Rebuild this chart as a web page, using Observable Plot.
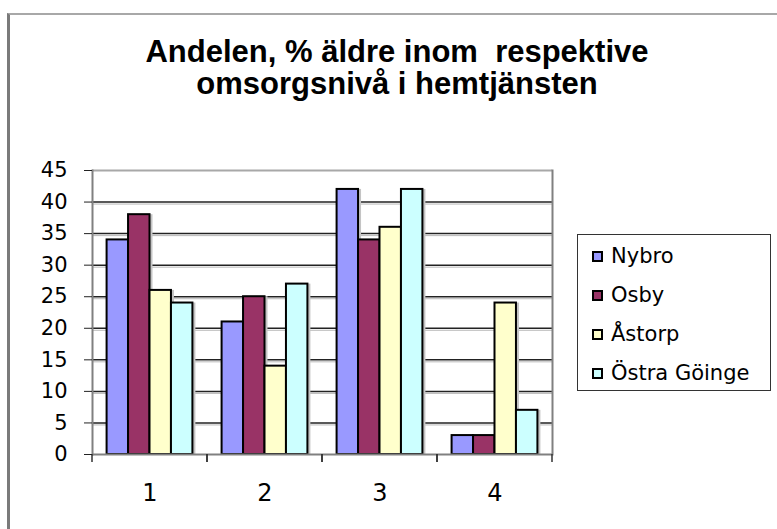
<!DOCTYPE html>
<html>
<head>
<meta charset="utf-8">
<script src="https://cdn.jsdelivr.net/npm/d3@7"></script>
<script src="https://cdn.jsdelivr.net/npm/@observablehq/plot@0.6"></script>
<style>
  html, body { margin: 0; padding: 0; background: #fff; }
  body { width: 777px; height: 529px; position: relative; overflow: hidden; }
  #border { position: absolute; left: 7px; top: 13px; width: 900px; height: 700px;
            border-left: 3px solid #7a7a7a; border-top: 2px solid #a8a8a8; box-sizing: border-box; }
  #title { position: absolute; left: 7px; width: 780px; top: 36px; text-align: center;
           font-family: "Liberation Sans", Arial, sans-serif; font-weight: bold; font-size: 31px;
           line-height: 32px; white-space: pre; color: #000; }
  #chart { position: absolute; left: 0; top: 0; }
  #legend { position: absolute; left: 577px; top: 234px; width: 194px; height: 157px;
            border: 1px solid #333; box-sizing: border-box; padding-top: 1.5px; background: #fff; }
  .row { height: 39px; display: flex; align-items: center; padding-left: 14px;
         font-family: "DejaVu Sans", sans-serif; font-size: 21px; color: #000; }
  .sw { width: 11px; height: 11px; border: 2px solid #000; box-sizing: border-box; margin-right: 8px; flex: none; }
</style>
</head>
<body>
<div id="border"></div>
<div id="title"></div>
<div id="chart"></div>
<div id="legend"></div>
<script>
const titleLines = ["Andelen, % äldre inom  respektive", "omsorgsnivå i hemtjänsten"];
const categories = [1, 2, 3, 4];
const series = ["Nybro", "Osby", "Åstorp", "Östra Göinge"];
const nybro = [34, 21, 42, 3];
const osby = [38, 25, 34, 3];
const astorp = [26, 14, 36, 24];
const ostraGoinge = [24, 27, 42, 7];
const colors = ["#9999ff", "#993366", "#ffffcc", "#ccffff"];
const yTicks = [0, 5, 10, 15, 20, 25, 30, 35, 40, 45];

const seriesValues = [nybro, osby, astorp, ostraGoinge];
const data = categories.flatMap((c, i) =>
  series.map((s, j) => ({cat: c, series: s, value: seriesValues[j][i]})));

document.getElementById("title").textContent = titleLines.join("\n");

const gridVals = yTicks.filter(v => v > 0 && v < 45);

function boundaryTicks(index, scales, values, dimensions) {
  const r = scales.x && scales.x.range ? scales.x.range()
    : [dimensions.marginLeft, dimensions.width - dimensions.marginRight];
  const y0 = scales.y(0);
  const g = d3.create("svg:g").attr("stroke", "#333").attr("stroke-width", 1.5);
  for (const x of r) {
    g.append("line").attr("x1", x).attr("x2", x).attr("y1", y0).attr("y2", y0 + 8);
  }
  return g.node();
}

const chart = Plot.plot({
  width: 777,
  height: 529,
  marginTop: 170,
  marginBottom: 75,
  marginLeft: 90,
  marginRight: 224,
  style: {background: "transparent", color: "#000", fontFamily: "DejaVu Sans, sans-serif", fontSize: "21px"},
  fx: {domain: categories, padding: 0, label: null, axis: null},
  x: {domain: series, paddingInner: 0, paddingOuter: 0.68, round: false, axis: null},
  y: {domain: [0, 45], label: null, axis: null},
  color: {domain: series, range: colors},
  marks: [
    Plot.ruleY(gridVals, {stroke: "#b8b8b8", strokeWidth: 1, dy: 2}),
    Plot.ruleY(gridVals, {stroke: "#222", strokeWidth: 1.5}),
    Plot.ruleY([45], {stroke: "#a8a8a8", strokeWidth: 2}),
    Plot.barY(data, {fx: "cat", x: "series", y: "value", fill: "#c4c4c4", dx: 3}),
    Plot.barY(data, {fx: "cat", x: "series", y: "value", fill: "series", stroke: "#000", strokeWidth: 2}),
    Plot.ruleY([0], {stroke: "#808080", strokeWidth: 2}),
    Plot.frame({anchor: "left", fx: () => 1, stroke: "#808080", strokeWidth: 2}),
    Plot.frame({anchor: "right", fx: () => 4, stroke: "#808080", strokeWidth: 2}),
    boundaryTicks,
    Plot.axisY({ticks: yTicks, tickSize: 8, tickPadding: 17, label: null, fontSize: 21, stroke: "#222"}),
    Plot.axisFx({anchor: "bottom", tickSize: 0, tickPadding: 29, label: null, fontSize: 24})
  ]
});
document.getElementById("chart").appendChild(chart);

const legend = document.getElementById("legend");
series.forEach((s, i) => {
  const row = document.createElement("div");
  row.className = "row";
  const sw = document.createElement("span");
  sw.className = "sw";
  sw.style.background = colors[i];
  const label = document.createElement("span");
  label.textContent = s;
  row.appendChild(sw);
  row.appendChild(label);
  legend.appendChild(row);
});
</script>
</body>
</html>
